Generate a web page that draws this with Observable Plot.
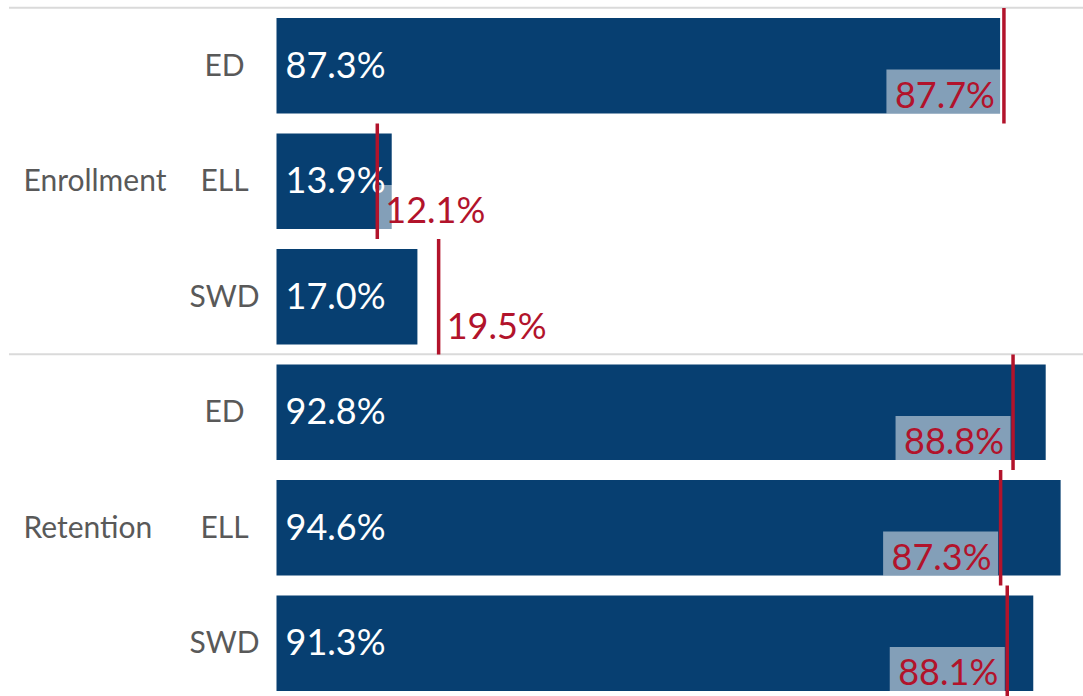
<!DOCTYPE html>
<html>
<head>
<meta charset="utf-8">
<script src="https://cdn.jsdelivr.net/npm/d3@7"></script>
<script src="https://cdn.jsdelivr.net/npm/@observablehq/plot@0.6"></script>
<style>
  html, body { margin: 0; padding: 0; background: #fff; }
  #chart svg { display: block; font-family: Lato, "Open Sans", sans-serif; }
</style>
</head>
<body>
<div id="chart"></div>
<script>
const groups    = ["Enrollment", "Enrollment", "Enrollment", "Retention", "Retention", "Retention"];
const subgroups = ["ED", "ELL", "SWD", "ED", "ELL", "SWD"];
const values    = [87.3, 13.9, 17.0, 92.8, 94.6, 91.3];
const targets   = [87.7, 12.1, 19.5, 88.8, 87.3, 88.1];

const data = groups.map((g, i) => ({
  key: g + "|" + subgroups[i],
  group: g,
  sub: subgroups[i],
  value: values[i],
  target: targets[i]
}));
const keys = data.map(d => d.key);
const fmt = v => v.toFixed(1) + "%";
const leftSide = data.filter(d => d.target >= 50);
const rightSide = data.filter(d => d.target < 50);
const groupStarts = data.filter((d, i) => i === 0 || groups[i - 1] !== d.group);
const groupMiddles = data.filter((d, i) => i % 3 === 1);

const navy = "#073f71";
const red = "#b2132b";
const gray = "#595959";

const chart = Plot.plot({
  width: 1083,
  height: 696,
  marginLeft: 9,
  marginRight: 0,
  marginTop: 0,
  marginBottom: 0,
  x: {domain: [0, 97.3], range: [276.5, 1083], axis: null},
  y: {domain: keys, range: [8, 701], padding: 0, round: false, axis: null},
  marks: [
    Plot.ruleY(groupStarts, {y: "key", dy: -58.5, stroke: "#dadada", strokeWidth: 2}),
    Plot.barX(data, {x: "value", y: "key", fill: navy, insetTop: 10, insetBottom: 10}),
    Plot.text(data, {x: d => 0, y: "key", text: d => fmt(d.value), fill: "white",
      textAnchor: "start", dx: 8.5, fontSize: 36}),
    Plot.barX(leftSide, {x1: "target", x2: "target", y: "key", fill: "white", fillOpacity: 0.5,
      insetLeft: -117, insetRight: 2, insetTop: 61.5, insetBottom: 10}),
    Plot.barX(rightSide, {x1: "target", x2: "target", y: "key", fill: "white", fillOpacity: 0.5,
      insetLeft: 2, insetRight: -117, insetTop: 61.5, insetBottom: 10}),
    Plot.tickX(data, {x: "target", y: "key", stroke: red, strokeWidth: 3.5}),
    Plot.text(leftSide, {x: "target", y: "key", text: d => fmt(d.target), fill: red,
      textAnchor: "end", dx: -9, dy: 30, fontSize: 36}),
    Plot.text(rightSide, {x: "target", y: "key", text: d => fmt(d.target), fill: red,
      textAnchor: "start", dx: 8, dy: 30, fontSize: 36}),
    Plot.text(data, {y: "key", text: "sub", frameAnchor: "left", dx: 215, fill: gray,
      textAnchor: "middle", fontSize: 30}),
    Plot.text(groupMiddles, {y: "key", text: "group", frameAnchor: "left", dx: 14, fill: gray,
      textAnchor: "start", fontSize: 30})
  ]
});
document.getElementById("chart").appendChild(chart);
</script>
</body>
</html>
